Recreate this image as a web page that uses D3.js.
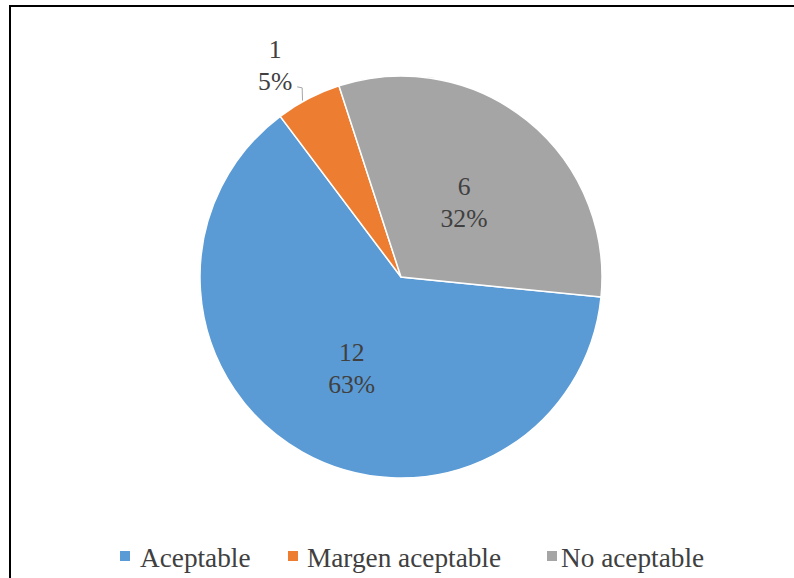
<!DOCTYPE html>
<html>
<head>
<meta charset="utf-8">
<script src="https://cdn.jsdelivr.net/npm/d3@7"></script>
<style>
html,body{margin:0;padding:0;background:#fff;}
svg{display:block;}
</style>
</head>
<body>
<svg id="chart" width="794" height="578"></svg>
<script>
const categories = ["Aceptable", "Margen aceptable", "No aceptable"];
const values = [12, 1, 6];
const colors = ["#5B9BD5", "#ED7D31", "#A5A5A5"];

// pick an installed serif font if any
const ctx = document.createElement("canvas").getContext("2d");
function w(font) { ctx.font = "40px " + font; return ctx.measureText("Aceptable 63% Margen").width; }
const candidates = ["Liberation Serif", "Times New Roman", "Tinos", "Noto Serif", "DejaVu Serif", "FreeSerif"];
let fam = null;
for (const c of candidates) {
  const q = `'${c}'`;
  if (w(q + ", monospace") !== w("monospace") || w(q + ", sans-serif") !== w("sans-serif")) { fam = c; break; }
}
const FONT = fam ? `'${fam}', serif` : "serif";
function sizeFor(str, targetW) {
  ctx.font = "100px " + FONT;
  return 100 * targetW / ctx.measureText(str).width;
}
const fsLabel = Math.min(28, sizeFor("63%", 47));
const fsLegend = Math.min(28, (sizeFor("Aceptable", 108) + sizeFor("Margen aceptable", 196) + sizeFor("No aceptable", 145)) / 3);

const svg = d3.select("#chart");

// frame (extends beyond the visible area on right/bottom)
svg.append("rect").attr("x", 10).attr("y", 6).attr("width", 800).attr("height", 600)
  .attr("fill", "#fff").attr("stroke", "#000").attr("stroke-width", 2);

const cx = 401, cy = 277, R = 201;
const total = d3.sum(values);
const rot = 95.7 * Math.PI / 180;

const pie = d3.pie().sort(null).startAngle(rot).endAngle(rot + 2 * Math.PI);
const arcs = pie(values);
const arc = d3.arc().innerRadius(0).outerRadius(R);

const g = svg.append("g").attr("transform", `translate(${cx},${cy})`);
g.selectAll("path.slice").data(arcs).enter().append("path")
  .attr("class", "slice")
  .attr("d", arc)
  .attr("fill", (d, i) => colors[i])
  .attr("stroke", "#fff").attr("stroke-width", 1.5);

const pct = v => Math.round(v / total * 100) + "%";

arcs.forEach((d, i) => {
  const mid = (d.startAngle + d.endAngle) / 2;
  let r = 0.5 * R, ang = mid;
  const outside = (d.endAngle - d.startAngle) < 0.5;
  if (outside) { r = 1.24 * R; ang = mid - 0.05; }
  const x = r * Math.sin(ang), y = -r * Math.cos(ang);
  const t = g.append("text").attr("text-anchor", "middle")
    .attr("font-family", FONT).attr("font-size", fsLabel).attr("fill", "#404040");
  t.append("tspan").attr("x", x).attr("y", y - 4).text(values[i]);
  t.append("tspan").attr("x", x).attr("y", y + 28).text(pct(values[i]));
  if (outside) {
    const ex = (R + 1) * Math.sin(mid - 0.03), ey = -(R + 1) * Math.cos(mid - 0.03);
    g.append("path")
      .attr("d", `M${x + 22},${y + 25}L${x + 27},${y + 26}L${ex},${ey}`)
      .attr("fill", "none").attr("stroke", "#a6a6a6").attr("stroke-width", 1);
  }
});

// legend
const legendSq = [120, 288, 547];
const legendTx = [140, 307, 561];
const lg = svg.append("g");
categories.forEach((c, i) => {
  lg.append("rect").attr("x", legendSq[i]).attr("y", 551).attr("width", 10).attr("height", 10).attr("fill", colors[i]);
  lg.append("text").attr("x", legendTx[i]).attr("y", 567)
    .attr("font-family", FONT).attr("font-size", fsLegend).attr("fill", "#404040").text(c);
});
</script>
</body>
</html>
